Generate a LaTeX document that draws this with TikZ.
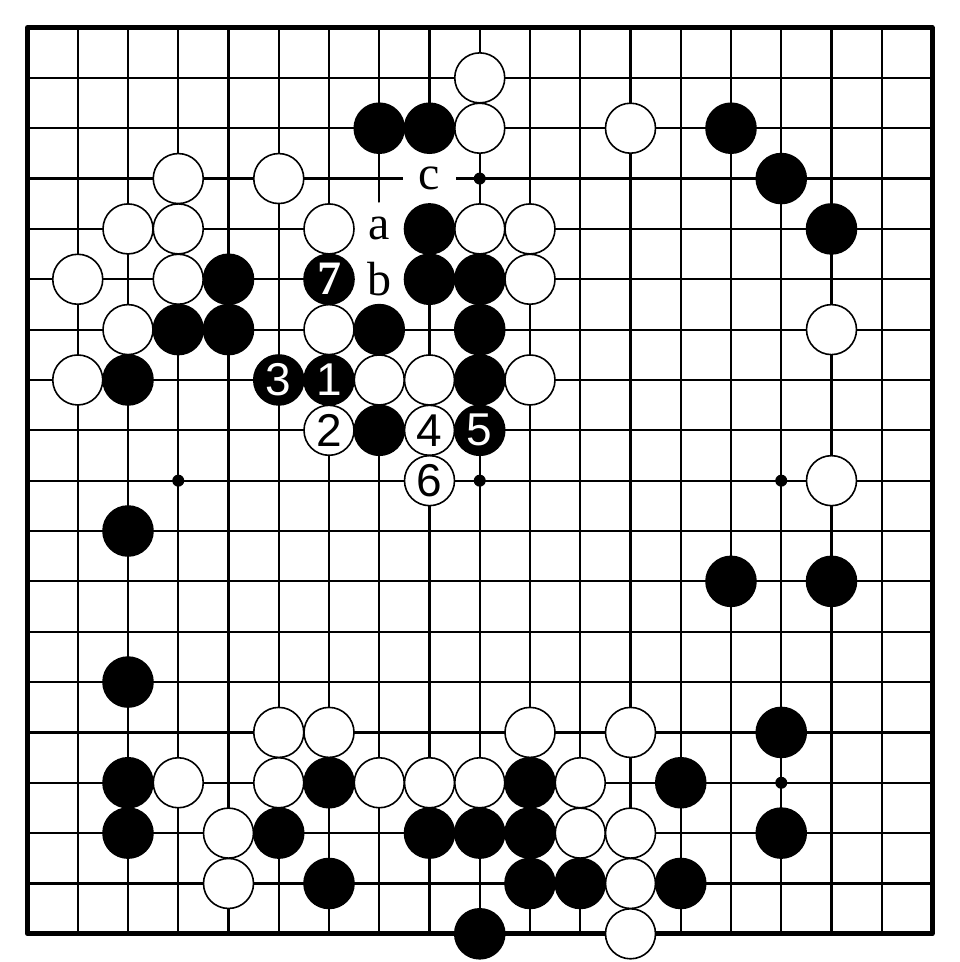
\documentclass[tikz,border=0pt]{standalone}
\usepackage{fontspec}
\newfontfamily\digitfont{Liberation Sans}
\newfontfamily\markfont{Liberation Serif}
\begin{document}
\begin{tikzpicture}[x=50.25pt, y=-50.35pt,
    gridline/.style={line width=2.2pt},
    stoneb/.style={circle, fill=black, draw=black, line width=1.6pt, minimum size=50pt, inner sep=0pt,
      text=white, font=\digitfont\fontsize{46}{46}\selectfont},
    stonew/.style={circle, fill=white, draw=black, line width=1.6pt, minimum size=50pt, inner sep=0pt,
      text=black, font=\digitfont\fontsize{46}{46}\selectfont},
    hoshi/.style={circle, fill=black, minimum size=12pt, inner sep=0pt},
    letter/.style={circle, fill=white, minimum size=53pt, inner sep=0pt,
      font=\markfont\fontsize{48}{48}\selectfont}]
  \useasboundingbox (-0.5473,-0.5462) rectangle (18.5572,18.5601);

  % the board
  \foreach \i in {1,...,17} {
    \draw[gridline] (\i,0) -- (\i,18);
    \draw[gridline] (0,\i) -- (18,\i);
  }
  \draw[line width=5pt, line join=round] (0,0) rectangle (18,18);
  \foreach \c/\r in {3/3,9/3,15/3,3/9,9/9,15/9,3/15,9/15,15/15}
    \node[hoshi] (h\c-\r) at (\c,\r) {};

  % letters a, b, c (the grid is blanked round them)
  \node[letter] (ma) at (7,4) {};
  \node[letter] (mb) at (7,5) {};
  \node[letter] (mc) at (8,3) {};

  % stones
  \foreach \c/\r in {9/1, 9/2,12/2, 3/3,5/3, 2/4,3/4,6/4,9/4,10/4, 1/5,3/5,10/5,
      2/6,6/6,16/6, 1/7,7/7,8/7,10/7, 16/9, 5/14,6/14,10/14,12/14,
      3/15,5/15,7/15,8/15,9/15,11/15, 4/16,11/16,12/16, 4/17,12/17, 12/18}
    \node[stonew] (w\c-\r) at (\c,\r) {};
  \foreach \c/\r in {7/2,8/2,14/2, 15/3, 8/4,16/4, 4/5,8/5,9/5, 3/6,4/6,7/6,9/6,
      2/7,9/7, 7/8, 2/10, 14/11,16/11, 2/13, 15/14, 2/15,6/15,10/15,13/15,
      2/16,5/16,8/16,9/16,10/16,15/16, 6/17,10/17,11/17,13/17, 9/18}
    \node[stoneb] (b\c-\r) at (\c,\r) {};

  % numbered moves
  \node[stoneb] (m1) at (6,7) {1};
  \node[stonew] (m2) at (6,8) {2};
  \node[stoneb] (m3) at (5,7) {3};
  \node[stonew] (m4) at (8,8) {4};
  \node[stoneb] (m5) at (9,8) {5};
  \node[stonew] (m6) at (8,9) {6};
  \node[stoneb, font=\markfont\bfseries\fontsize{48}{48}\selectfont] (m7) at (6,5) {7};

  \node[font=\markfont\fontsize{48}{48}\selectfont] at (ma) {a};
  \node[font=\markfont\fontsize{48}{48}\selectfont] at (mb) {b};
  \node[font=\markfont\fontsize{48}{48}\selectfont] at (mc) {c};
\end{tikzpicture}
\end{document}
